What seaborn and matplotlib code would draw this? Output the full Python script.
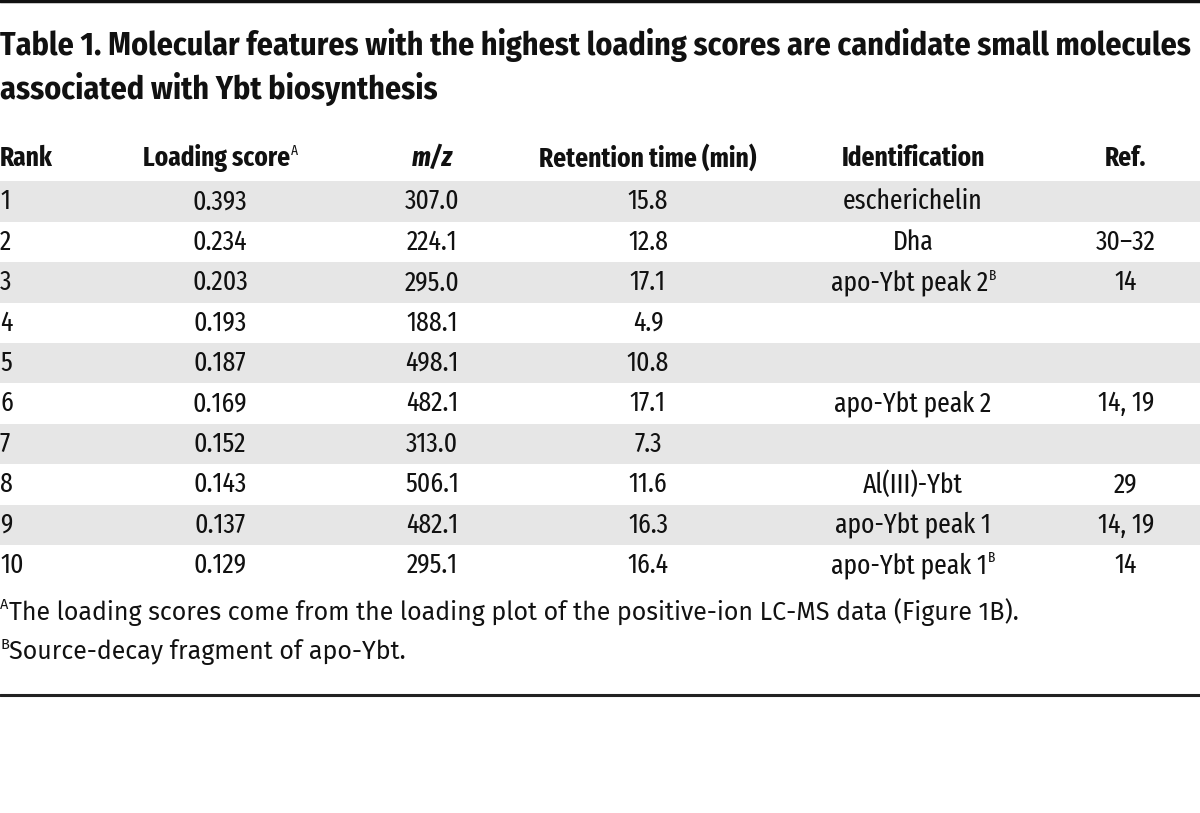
import matplotlib
matplotlib.use("Agg")
import matplotlib.pyplot as plt
import seaborn as sns
from matplotlib import font_manager as fm

sns.set_theme(style="white")

names = {f.name for f in fm.fontManager.ttflist}
def fam(*cands):
    return [n for n in cands if n in names] + ["DejaVu Sans"]
F_TITLE = fam("Fira Sans Condensed")
F_BODY = fam("Fira Sans Extra Condensed", "Fira Sans Condensed")
F_NOTE = fam("Fira Sans")
plt.rcParams["font.family"] = F_BODY

title_lines = ["Table 1. Molecular features with the highest loading scores are candidate small molecules",
               "associated with Ybt biosynthesis"]
headers = ["Rank", "Loading score", "m/z", "Retention time (min)", "Identification", "Ref."]
header_sup = ["", "A", "", "", "", ""]
rank = ["1", "2", "3", "4", "5", "6", "7", "8", "9", "10"]
loading = ["0.393", "0.234", "0.203", "0.193", "0.187", "0.169", "0.152", "0.143", "0.137", "0.129"]
mz = ["307.0", "224.1", "295.0", "188.1", "498.1", "482.1", "313.0", "506.1", "482.1", "295.1"]
rt = ["15.8", "12.8", "17.1", "4.9", "10.8", "17.1", "7.3", "11.6", "16.3", "16.4"]
ident = ["escherichelin", "Dha", "apo-Ybt peak 2", "", "", "apo-Ybt peak 2", "", "Al(III)-Ybt",
         "apo-Ybt peak 1", "apo-Ybt peak 1"]
ident_sup = ["", "", "B", "", "", "", "", "", "", "B"]
ref = ["", "30\u201332", "14", "", "", "14, 19", "", "29", "14, 19", "14"]
footnotes = [("A", "The loading scores come from the loading plot of the positive-ion LC-MS data (Figure 1B)."),
             ("B", "Source-decay fragment of apo-Ybt.")]

W, H = 1200, 813
fig = plt.figure(figsize=(12, 8.13), dpi=100)
ax = fig.add_axes([0, 0, 1, 1])
ax.set_xlim(0, W)
ax.set_ylim(H, 0)
ax.axis("off")

ax.axhline(1.5, color="#111111", lw=2.5)
ax.axhline(695, color="#222222", lw=2.2)

for i, t in enumerate(title_lines):
    ax.text(0, 45 + i * 44, t, fontsize=23, fontweight="bold", va="center", ha="left",
            color="#111111", family=F_TITLE)

row_y0 = 181.5
row_h = 40.4
col_x = [0, 220, 432, 648, 913, 1126]
col_ha = ["left", "center", "center", "center", "center", "center"]
BODY = 20
HEAD = 19.8
SUP = 10.5

centers = [row_y0 + row_h * (i + 0.5) for i in range(len(rank))]
shade = [centers[i] for i in range(len(rank)) if i % 2 == 0]
ax.barh(shade, [W] * len(shade), height=row_h, left=0, color="#e6e6e6", edgecolor="none", zorder=0)

fig.canvas.draw()
renderer = fig.canvas.get_renderer()
inv = ax.transData.inverted()

def put(x, y, s, sup="", ha="center", size=BODY, **kw):
    t = ax.text(x, y, s, ha=ha, va="center", fontsize=size, color="#111111", **kw)
    if sup:
        tmp = ax.text(0, 0, sup, fontsize=SUP, ha="left", va="center")
        sw = tmp.get_window_extent(renderer).width
        tmp.remove()
        if ha == "center":
            t.set_x(x - sw / 2)
        bb = t.get_window_extent(renderer)
        xr = inv.transform((bb.x1 + 1, 0))[0]
        ax.text(xr, y - 7, sup, fontsize=SUP, ha="left", va="center", color="#111111")
    return t

hy = 158
for j, h in enumerate(headers):
    put(col_x[j], hy, h, header_sup[j], ha=col_ha[j], size=HEAD, fontweight="bold",
        fontstyle="italic" if h == "m/z" else "normal")

cols = [rank, loading, mz, rt, ident, ref]
for i in range(len(rank)):
    for j, c in enumerate(cols):
        sup = ident_sup[i] if j == 4 else ""
        if c[i]:
            put(col_x[j], centers[i], c[i], sup, ha=col_ha[j])

for k, (m, s) in enumerate(footnotes):
    y = 612 + k * 40
    mt = ax.text(0, y - 7, m, fontsize=SUP, ha="left", va="center", color="#111111", family=F_NOTE)
    bb = mt.get_window_extent(renderer)
    xr = inv.transform((bb.x1 + 0.5, 0))[0]
    ax.text(xr, y, s, fontsize=18, ha="left", va="center", color="#111111", family=F_NOTE)

fig.savefig("out.png", dpi=100, facecolor="white")
